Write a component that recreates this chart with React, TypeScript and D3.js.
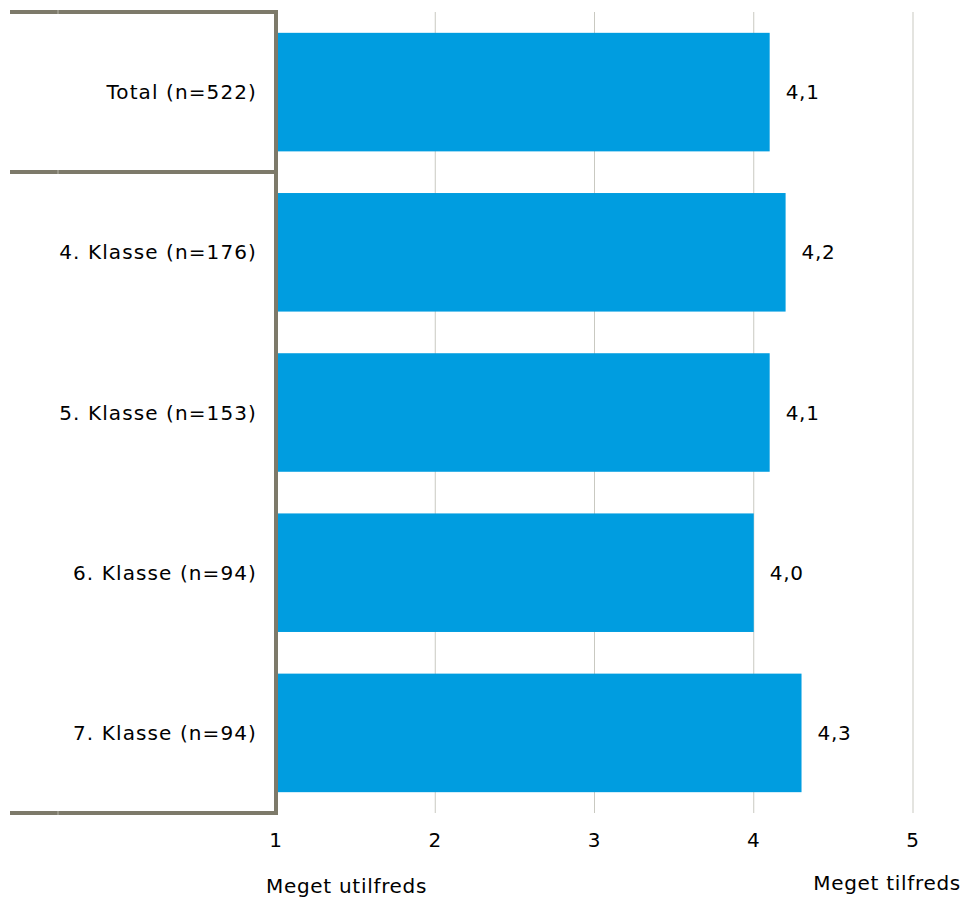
import React from "react";
import * as d3 from "d3";

const categories = ["Total (n=522)", "4. Klasse (n=176)", "5. Klasse (n=153)", "6. Klasse (n=94)", "7. Klasse (n=94)"];
const values = [4.1, 4.2, 4.1, 4.0, 4.3];
const ticks = [1, 2, 3, 4, 5];
const minLabel = "Meget utilfreds";
const maxLabel = "Meget tilfreds";

const W = 962;
const H = 897;
const FONT = "'DejaVu Sans', Verdana, sans-serif";
const FS = 20;
const LS = 0.7;

export default function App() {
  const x = d3.scaleLinear().domain([1, 5]).range([276, 913]);
  const y = d3.scaleBand<string>().domain(categories).range([12, 813]).paddingInner(0.26).paddingOuter(0.13);
  const axisColor = "#7d7a6a";
  const fmt = (v: number) => v.toFixed(1).replace(".", ",");
  const sepYs = [12, 172, 813];
  return (
    <svg width={W} height={H} style={{ position: "absolute", left: 0, top: 0, background: "#fff" }} fontFamily={FONT} fontSize={FS} letterSpacing={LS}>
      {ticks.slice(1).map((t) => (
        <line key={t} x1={x(t)} x2={x(t)} y1={12} y2={813} stroke="#c9c9c1" strokeWidth={1} />
      ))}
      {categories.map((c, i) => (
        <g key={c}>
          <rect x={x(1)} y={y(c)} width={x(values[i]) - x(1)} height={y.bandwidth()} fill="#009de0" />
          <text x={x(values[i]) + 16} y={(y(c) as number) + y.bandwidth() / 2} dy="0.35em" fill="#000">
            {fmt(values[i])}
          </text>
          <text x={257} y={(y(c) as number) + y.bandwidth() / 2} dy="0.35em" textAnchor="end" fill="#000" letterSpacing={1.1}>
            {c}
          </text>
        </g>
      ))}
      {sepYs.map((sy) => (
        <g key={sy}>
          <line x1={10} x2={278} y1={sy} y2={sy} stroke={axisColor} strokeWidth={4} />
          <line x1={58} x2={58} y1={sy - 2} y2={sy + 2} stroke="#b5b3a8" strokeWidth={1} />
        </g>
      ))}
      <line x1={276} x2={276} y1={10} y2={815} stroke={axisColor} strokeWidth={4} />
      {ticks.map((t) => (
        <text key={t} x={x(t)} y={840} dy="0.35em" textAnchor="middle" fill="#000">
          {t}
        </text>
      ))}
      <text x={266} y={886} dy="0.35em" textAnchor="start" fill="#000">{minLabel}</text>
      <text x={961} y={883} dy="0.35em" textAnchor="end" fill="#000">{maxLabel}</text>
    </svg>
  );
}
